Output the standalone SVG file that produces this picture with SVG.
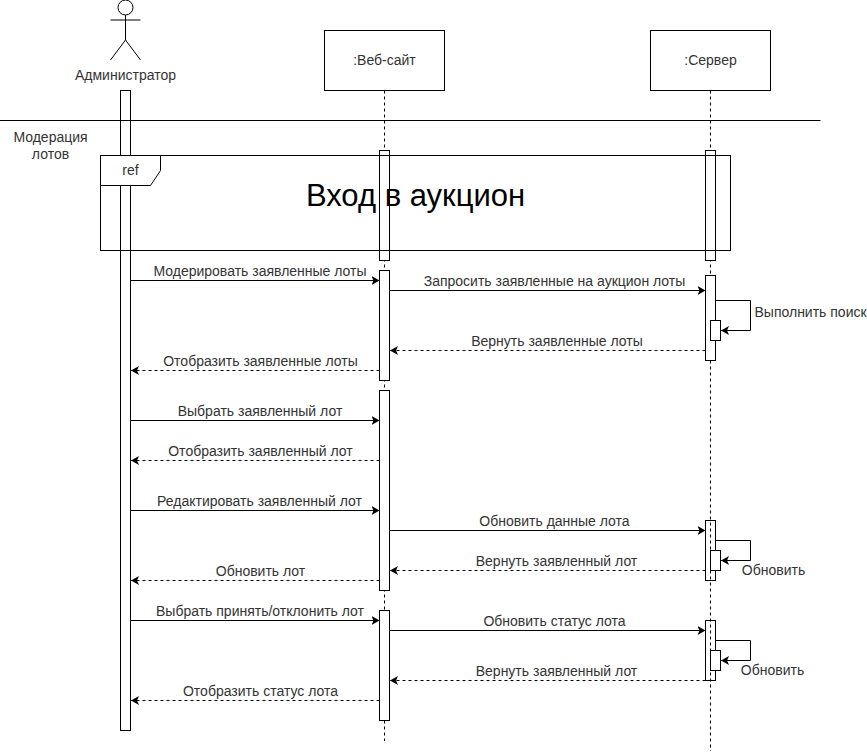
<svg xmlns="http://www.w3.org/2000/svg" width="867" height="752" viewBox="0 0 867 752">
<style>
.l{fill:none;stroke:#000;stroke-width:1}
.d{fill:none;stroke:#000;stroke-width:1;stroke-dasharray:3 3}
.a{fill:#fff;stroke:#000;stroke-width:1}
.n{fill:none;stroke:#000;stroke-width:1}
text{font-family:"Liberation Sans",Arial,sans-serif;font-size:14px;fill:#333;text-anchor:middle}
.b{font-size:31px;fill:#000}
.s{text-anchor:start}
</style>
<defs>
<marker id="h" markerUnits="userSpaceOnUse" markerWidth="10" markerHeight="10" refX="8" refY="4.5" orient="auto"><path d="M0 0L8 4.5L0 9L2 4.5Z" fill="#000"/></marker>
</defs>
<rect width="867" height="752" fill="#fff"/>
<g id="lifelines">
<path class="d" d="M384.5 90.5V741"/>
<path class="d" d="M710.5 90.5V751"/>
</g>
<g id="admin">
<rect class="a" x="120.5" y="90.5" width="10" height="640"/>
<circle class="l" cx="125.500" cy="7.500" r="7.500"/>
<path class="l" d="M125.500 15V40M110.500 20H140.500M125.500 40L110.500 60M125.500 40L140.500 60"/>
<text x="125.500" y="80">Администратор</text>
</g>
<g id="site"><rect class="a" x="324.500" y="30.500" width="120" height="60"/><text x="384.500" y="65">:Веб-сайт</text></g>
<g id="server"><rect class="a" x="650.500" y="30.500" width="120" height="60"/><text x="710.500" y="65">:Сервер</text></g>
<g id="fragment">
<path class="l" d="M0 120.500H820.500"/>
<text x="50.500" y="142">Модерация</text>
<text x="50.500" y="159">лотов</text>
</g>
<g id="site-act-1"><rect class="a" x="379.500" y="150.500" width="10" height="110"/></g>
<g id="server-act-1"><rect class="a" x="705.500" y="150.500" width="10" height="110"/></g>
<g id="ref">
<rect class="n" x="100.500" y="155.500" width="630" height="95"/>
<path class="a" d="M100.500 155.500H160.500V170.500L150.500 185.500H100.500Z"/>
<text x="130.500" y="175">ref</text>
<text class="b" x="415.500" y="206">Вход в аукцион</text>
</g>
<g id="site-acts">
<rect class="a" x="379.500" y="270.500" width="10" height="110"/>
<rect class="a" x="379.500" y="390.500" width="10" height="200"/>
<rect class="a" x="379.500" y="610.500" width="10" height="110"/>
</g>
<g id="server-acts">
<rect class="a" x="705.500" y="275.500" width="10" height="85"/>
<rect class="n" x="705.500" y="520.500" width="10" height="60"/>
<rect class="n" x="705.500" y="620.500" width="10" height="60"/>
<rect class="a" x="710.500" y="320.500" width="10" height="20"/>
<rect class="a" x="710.500" y="550.500" width="10" height="20"/>
<rect class="a" x="710.500" y="650.500" width="10" height="20"/>
</g>
<g id="connectors">
<path class="l" marker-end="url(#h)" d="M130.500 280.500H379.500"/>
<path class="l" marker-end="url(#h)" d="M389.500 290.500H705.500"/>
<path class="l" marker-end="url(#h)" d="M715.500 300.500H750.500V330.500H721"/>
<path class="d" marker-end="url(#h)" d="M705.500 350.500H390"/>
<path class="d" marker-end="url(#h)" d="M379.500 370.500H131"/>
<path class="l" marker-end="url(#h)" d="M130.500 420.500H379.500"/>
<path class="d" marker-end="url(#h)" d="M379.500 460.500H131"/>
<path class="l" marker-end="url(#h)" d="M130.500 510.500H379.500"/>
<path class="l" marker-end="url(#h)" d="M389.500 530.500H705.500"/>
<path class="l" marker-end="url(#h)" d="M715.500 540.500H750.500V560.500H721"/>
<path class="d" marker-end="url(#h)" d="M705.500 570.500H390"/>
<path class="d" marker-end="url(#h)" d="M379.500 580.500H131"/>
<path class="l" marker-end="url(#h)" d="M130.500 620.500H379.500"/>
<path class="l" marker-end="url(#h)" d="M389.500 630.500H705.500"/>
<path class="l" marker-end="url(#h)" d="M715.500 640.500H750.500V660.500H721"/>
<path class="d" marker-end="url(#h)" d="M705.500 680.500H390"/>
<path class="d" marker-end="url(#h)" d="M379.500 700.500H131"/>
</g>
<g id="labels">
<text x="260" y="276">Модерировать заявленные лоты</text>
<text x="554.500" y="286">Запросить заявленные на аукцион лоты</text>
<text class="s" x="754.500" y="317">Выполнить поиск</text>
<text x="557" y="346">Вернуть заявленные лоты</text>
<text x="260.500" y="366">Отобразить заявленные лоты</text>
<text x="260" y="416">Выбрать заявленный лот</text>
<text x="260.500" y="456">Отобразить заявленный лот</text>
<text x="259.500" y="506">Редактировать заявленный лот</text>
<text x="554.500" y="526">Обновить данные лота</text>
<text x="556.500" y="566">Вернуть заявленный лот</text>
<text x="773.500" y="575">Обновить</text>
<text x="260.500" y="576">Обновить лот</text>
<text x="260" y="616">Выбрать принять/отклонить лот</text>
<text x="554.500" y="626">Обновить статус лота</text>
<text x="556.500" y="676">Вернуть заявленный лот</text>
<text x="772.500" y="675">Обновить</text>
<text x="260.500" y="696">Отобразить статус лота</text>
</g>
</svg>
